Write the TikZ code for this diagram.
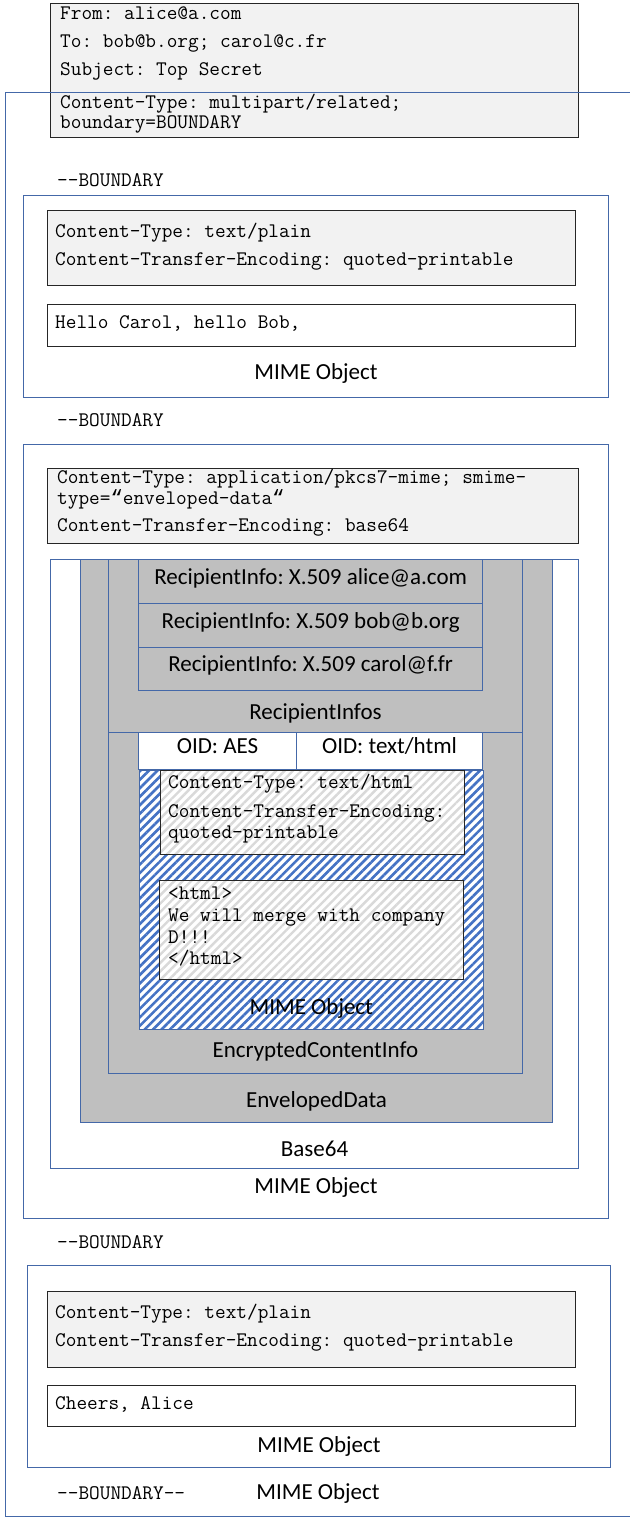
\documentclass[tikz,border=0pt]{standalone}
\usepackage{fontspec}
\setmainfont{Carlito}
\newfontfamily\quotefont{Liberation Mono}
\frenchspacing
\usetikzlibrary{positioning, patterns.meta}

\definecolor{framec}{RGB}{68,104,168}
\definecolor{hatchc}{RGB}{68,114,196}
\definecolor{panelc}{RGB}{191,191,191}
\definecolor{headc}{RGB}{242,242,242}
\definecolor{stripec}{RGB}{217,217,217}

\newcommand{\dq}{{\quotefont “}}

\tikzset{
  box/.style={draw=framec, line width=1pt, inner sep=0pt, anchor=north west},
  panel/.style={box, fill=panelc},
  hdrbox/.style={draw=black!85, line width=1.2pt, fill=headc, inner sep=0pt, anchor=north west},
  bodybox/.style={draw=black!85, line width=1.2pt, fill=white, inner sep=0pt, anchor=north west},
  code/.style={font=\fontsize{20.7}{22}\selectfont\ttfamily, inner sep=0pt, anchor=mid west},
  lbl/.style={font=\fontsize{23}{26}\selectfont, inner sep=0pt, anchor=mid},
  bluehatch/.style={preaction={fill=white}, pattern={Lines[angle=45, distance=6pt, line width=2.6pt]}, pattern color=hatchc},
  grayhatch/.style={preaction={fill=white}, pattern={Lines[angle=45, distance=6pt, line width=2.4pt]}, pattern color=stripec},
}

\begin{document}
\begin{tikzpicture}[x=1pt, y=-1pt]
    \useasboundingbox (0,0) rectangle (629,1522);

    % mail header
    \node[hdrbox, minimum width=528pt, minimum height=134pt] (head) at (50,3) {};
    \node[code] (hfrom) at (60,17) {From: alice@a.com};
    \node[code] (hto) at (60,45) {To: bob@b.org; carol@c.fr};
    \node[code] (hsubj) at (60,73) {Subject: Top Secret};
    \node[code] (htype) at (60,106) {Content-Type: multipart/related;};
    \node[code] (hbound) at (60,126) {boundary=BOUNDARY};

    % whole mail
    \node[box, minimum width=640pt, minimum height=1424pt] (mail) at (5,92) {};

    % first part
    \node[code] (bndA) at (57,184) {--BOUNDARY};
    \node[box, minimum width=585pt, minimum height=202pt] (mimeA) at (23,195) {};
    \node[hdrbox, minimum width=528pt, minimum height=75pt] (ctA) at (47,210) {};
    \node[code] at (55,235) {Content-Type: text/plain};
    \node[code] at (55,263) {Content-Transfer-Encoding: quoted-printable};
    \node[bodybox, minimum width=528pt, minimum height=42pt] (helloA) at (47,304) {};
    \node[code] at (55,326) {Hello Carol, hello Bob,};
    \node[lbl, above=21pt of mimeA.south, anchor=mid] {MIME Object};

    % second part
    \node[code] (bndB) at (57,424) {--BOUNDARY};
    \node[box, minimum width=585pt, minimum height=774pt] (mimeB) at (23,444) {};
    \node[hdrbox, minimum width=531pt, minimum height=75pt] (ctB) at (47,468) {};
    \node[code] at (57,481) {Content-Type: application/pkcs7-mime; smime-};
    \node[code] at (57,502) {type=\dq enveloped-data\dq};
    \node[code] at (57,529) {Content-Transfer-Encoding: base64};

    \node[box, fill=white, minimum width=528pt, minimum height=609pt] (b64) at (50,559) {};
    \node[panel, minimum width=472pt, minimum height=563pt] (env) at (80,559) {};
    \node[panel, minimum width=414pt, minimum height=173pt] (rinfos) at (108,559) {};
    \node[panel, line width=1.3pt, minimum width=344pt, minimum height=44pt] (riA) at (138,559) {};
    \node[panel, line width=1.3pt, minimum width=344pt, minimum height=44pt] (riB) at (138,603) {};
    \node[panel, line width=1.3pt, minimum width=344pt, minimum height=43pt] (riC) at (138,647) {};
    \node[lbl] at (riA.center) {RecipientInfo: X.509 alice@a.com};
    \node[lbl] at (riB.center) {RecipientInfo: X.509 bob@b.org};
    \node[lbl] at (riC.center) {RecipientInfo: X.509 carol@f.fr};
    \node[lbl, above=16pt of rinfos.south, anchor=mid] {RecipientInfos};

    \node[panel, minimum width=414pt, minimum height=341pt] (eci) at (108,732) {};
    \node[box, fill=white, minimum width=158pt, minimum height=37pt] (oidA) at (138,732) {};
    \node[box, fill=white, minimum width=186pt, minimum height=37pt] (oidB) at (296,732) {};
    \node[lbl] at (oidA.center) {OID: AES};
    \node[lbl] at (oidB.center) {OID: text/html};

    \node[box, bluehatch, minimum width=344pt, minimum height=259pt] (mimeC) at (138,769) {};
    \node[bodybox, grayhatch, minimum width=304pt, minimum height=84pt] (ctC) at (159,769) {};
    \node[code] at (168,786) {Content-Type: text/html};
    \node[code] at (168,815) {Content-Transfer-Encoding:};
    \node[code] at (168,836) {quoted-printable};
    \node[bodybox, grayhatch, minimum width=304pt, minimum height=99pt] (htmlC) at (159,880) {};
    \node[code] at (168,897) {<html>};
    \node[code] at (168,919) {We will merge with company};
    \node[code] at (168,941) {D!!!};
    \node[code] at (168,962) {</html>};
    \node[lbl, above=18pt of mimeC.south, anchor=mid] {MIME Object};

    \node[lbl, above=19pt of eci.south, anchor=mid] {EncryptedContentInfo};
    \node[lbl, above=18pt of env.south, anchor=mid] {EnvelopedData};
    \node[lbl, above=15pt of b64.south, anchor=mid] {Base64};
    \node[lbl, above=28pt of mimeB.south, anchor=mid] {MIME Object};

    % third part
    \node[code] (bndC) at (57,1246) {--BOUNDARY};
    \node[box, minimum width=583pt, minimum height=202pt] (mimeD) at (27,1265) {};
    \node[hdrbox, minimum width=528pt, minimum height=76pt] (ctD) at (47,1291) {};
    \node[code] at (55,1316) {Content-Type: text/plain};
    \node[code] at (55,1344) {Content-Transfer-Encoding: quoted-printable};
    \node[bodybox, minimum width=528pt, minimum height=41pt] (byeD) at (47,1385) {};
    \node[code] at (55,1407) {Cheers, Alice};
    \node[lbl, above=18pt of mimeD.south, anchor=mid] {MIME Object};

    % closing boundary
    \node[code] (bndEnd) at (57,1497) {--BOUNDARY--};
    \node[lbl] at (318,1497) {MIME Object};
\end{tikzpicture}
\end{document}
